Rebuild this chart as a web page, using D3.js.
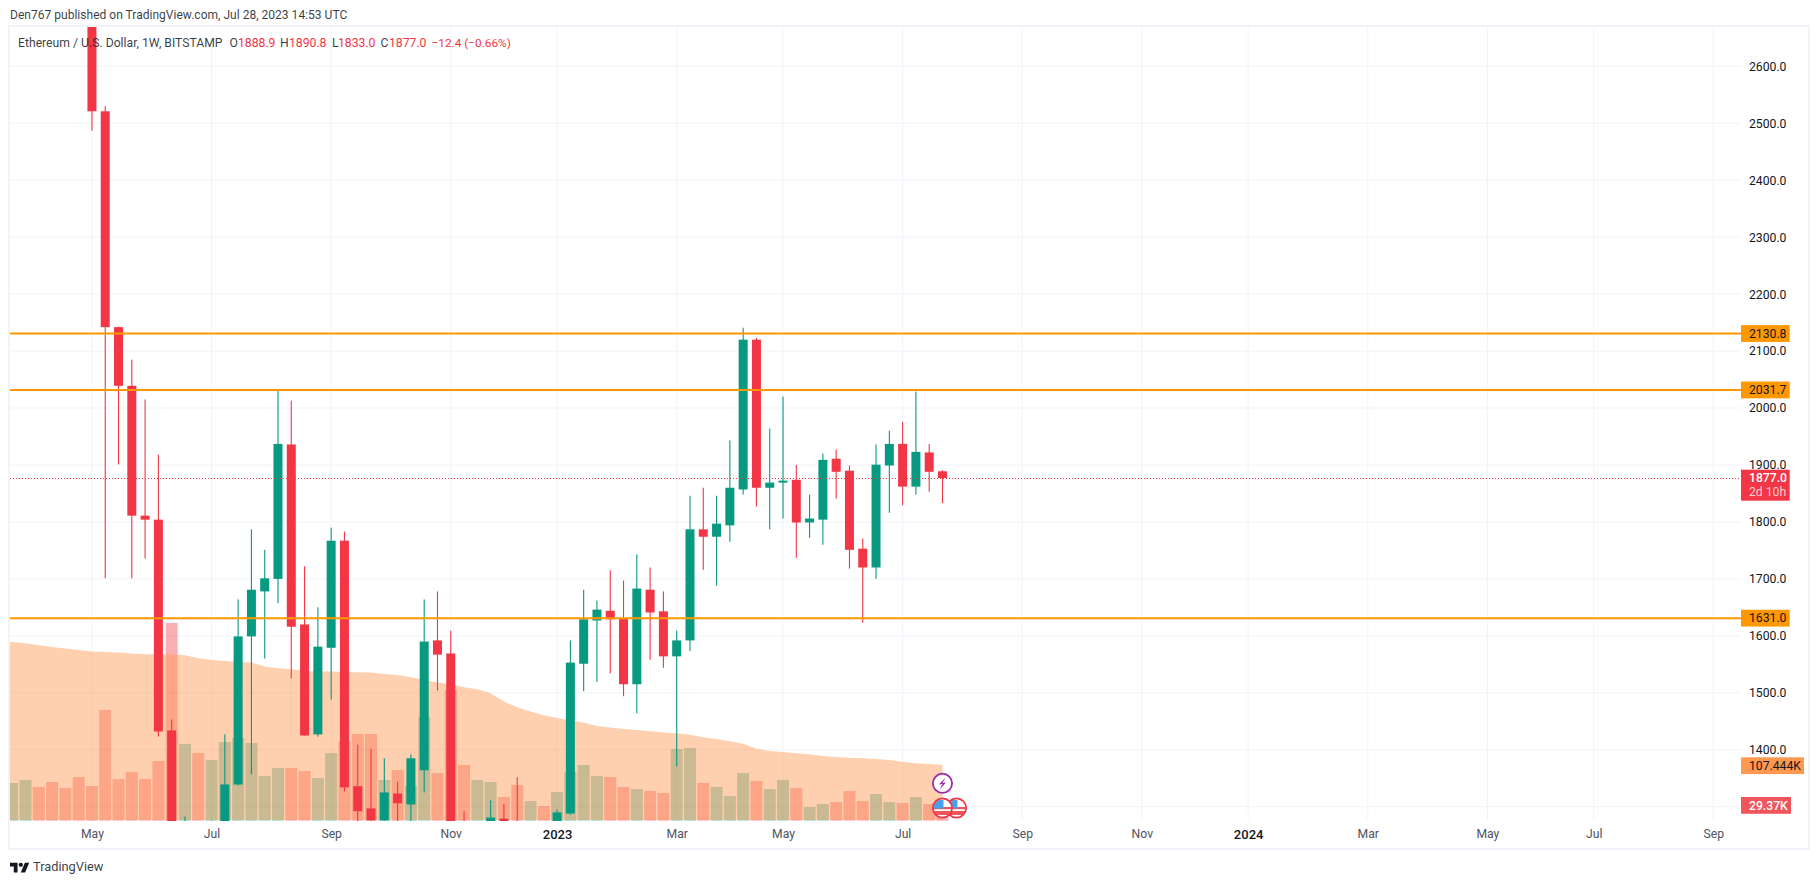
<!DOCTYPE html>
<html>
<head>
<meta charset="utf-8">
<title>Ethereum / U.S. Dollar, 1W</title>
<script src="https://cdn.jsdelivr.net/npm/d3@7"></script>
<style>
    html, body { margin: 0; padding: 0; background: #fff; overflow: hidden; }
    text { font-family: Roboto, "Liberation Sans", sans-serif; }
</style>
</head>
<body>
<div id="chart"></div>
<script>
// Weekly candles, one entry per week
const opens = [3110, 2960, 3050, 3130, 3090, 3000, 2830, 2521, 2142, 2039, 1811, 1804,
    1434, 1130, 1240, 1070, 1170, 1339, 1599, 1678, 1700, 1936, 1620, 1427, 1579, 1767,
    1336, 1297, 1276, 1323, 1304, 1364, 1592, 1569, 1250, 1210, 1265, 1279, 1220, 1190,
    1200, 1195, 1288, 1551, 1627, 1644, 1630, 1515, 1681, 1643, 1564, 1592, 1787, 1774,
    1794, 1857, 2120, 1860, 1869, 1874, 1799, 1804, 1911, 1890, 1753, 1720, 1899, 1937,
    1862, 1922, 1888.9];
const highs = [3190, 3140, 3180, 3170, 3160, 3030, 2970, 2530, 2143, 2085, 2015, 1918,
    1453, 1283, 1270, 1276, 1427, 1664, 1787, 1751, 2032, 2013, 1722, 1650, 1790, 1783,
    1409, 1402, 1385, 1344, 1392, 1664, 1678, 1609, 1292, 1270, 1311, 1305, 1352, 1220,
    1220, 1295, 1592, 1681, 1662, 1715, 1697, 1743, 1720, 1678, 1609, 1846, 1860, 1846,
    1943, 2141, 2123, 1964, 2020, 1900, 1848, 1920, 1927, 1899, 1771, 1936, 1960, 1976,
    2029, 1937, 1890.8];
const lows = [2850, 2900, 2980, 3000, 2880, 2700, 2487, 1701, 1901, 1701, 1736, 1423,
    1000, 1010, 1000, 1000, 1100, 1337, 1357, 1560, 1657, 1525, 1425, 1423, 1488, 1327,
    1190, 1220, 1220, 1190, 1220, 1325, 1504, 1073, 1170, 1150, 1240, 1160, 1150, 1180,
    1160, 1190, 1286, 1503, 1519, 1534, 1494, 1464, 1558, 1544, 1371, 1573, 1716, 1688,
    1765, 1848, 1827, 1787, 1806, 1737, 1772, 1760, 1841, 1718, 1623, 1700, 1816, 1829,
    1848, 1853, 1833];
const closes = [2960, 3050, 3130, 3090, 3000, 2830, 2521, 2142, 2039, 1811, 1804, 1432,
    1130, 1240, 1070, 1170, 1339, 1599, 1681, 1701, 1937, 1616, 1425, 1581, 1767, 1334,
    1292, 1276, 1325, 1306, 1385, 1590, 1567, 1250, 1210, 1265, 1281, 1220, 1190, 1200,
    1195, 1290, 1553, 1629, 1646, 1629, 1515, 1683, 1641, 1564, 1592, 1787, 1774, 1797,
    1860, 2120, 1860, 1869, 1872.5, 1799, 1806, 1909, 1888, 1751, 1720, 1900.6, 1937,
    1862, 1923, 1888, 1877];

// Volume in thousands and its moving average
const volumes = [72.3, 78.1, 64.6, 74.2, 62.7, 83.8, 66.6, 212.5, 80, 93.4, 80, 114.6,
    379.5, 147.2, 129.9, 116.5, 151, 158.7, 149.1, 85.8, 101.1, 101.1, 95.4, 81.9, 129.9,
    153, 166.4, 166.4, 78.1, 97.3, 66.6, 199, 91.5, 250.9, 106.9, 78.1, 74.2, 45.4, 68.5,
    37.8, 28.2, 55, 93.4, 106.9, 85.8, 83.8, 64.6, 60.8, 57, 53.1, 137.6, 139.5, 72.3,
    64.6, 47.4, 91.5, 76.2, 60.8, 78.1, 62.7, 26.2, 32, 35.8, 57, 37.8, 51.2, 35.8, 33.9,
    45.4, 32, 29.37];
// First entry belongs to the week just left of the pane, so the area reaches the edge
const volumeMa = [345, 343, 340.5, 336.6, 333.4, 330.2, 327.7, 324.5, 323.8, 322.6, 320.6,
    319.4, 319.4, 318.7, 317.4, 311.7, 308.5, 306.6, 304.6, 303.4, 295.7, 292.5, 290.6,
    287.4, 286.1, 286.1, 285.4, 284.8, 284.2, 281.6, 279.7, 275.2, 270.1, 265, 261.8, 256,
    252.2, 244.5, 228.5, 217.6, 209.3, 202.2, 197.1, 192.6, 188.2, 181.8, 178.6, 176,
    174.1, 171.5, 169, 167.7, 165.1, 160, 156.8, 152.3, 147.8, 138.2, 133.8, 131.8, 129.3,
    127.4, 124.2, 122.2, 121, 119.7, 118.4, 116.5, 113.3, 110.1, 108.8, 107.444];
// The colour of a volume bar does not always follow the candle, so it is kept apart
const volumeUp = [1, 1, 0, 0, 0, 0, 0, 0, 0, 0, 0, 0, 0, 1, 0, 1, 1, 1, 1, 1, 1, 0, 0, 1, 1,
    0, 0, 0, 1, 0, 1, 1, 0, 0, 0, 1, 1, 0, 0, 1, 0, 1, 1, 1, 1, 0, 0, 1, 0, 0, 1, 1, 0, 1,
    1, 1, 0, 1, 1, 0, 1, 1, 0, 0, 0, 1, 1, 0, 1, 0, 0];

const priceTicks = [2600, 2500, 2400, 2300, 2200, 2100, 2000, 1900, 1800, 1700, 1600, 1500, 1400];
const gridPrices = [2600, 2500, 2400, 2300, 2200, 2100, 2000, 1900, 1800, 1700, 1600, 1500, 1400, 1300];
const timeLabels = ["May", "Jul", "Sep", "Nov", "2023", "Mar", "May", "Jul", "Sep", "Nov", "2024", "Mar", "May", "Jul", "Sep"];
const timeWeeks = [6, 15, 24, 33, 41, 50, 58, 67, 76, 85, 93, 102, 111, 119, 128];
const levels = [2130.8, 2031.7, 1631.0];
const lastPrice = 1877.0;
const lastVolume = 29.37;
const lastVolumeMa = 107.444;

// Some useful variables, all in the same place
var width = 1819;
var height = 884;
var pane = { left: 10, right: 1741, top: 27, bottom: 820.7 };
var frameRight = 1809;
var frameBottom = 849;
var upColor = "#089981";
var downColor = "#F23645";
var levelColor = "#FF9800";
var gridColor = "#F0F3FA";
var textColor = "#131722";
var axisFont = 12.2;

var svg = d3.select("#chart").append("svg")
    .attr("width", width)
    .attr("height", height)
    .style("display", "block");

const xScale = d3.scaleLinear().domain([0, 128]).range([12.2, 1713.3]);
const yScale = d3.scaleLinear().domain([2600, 1300]).range([66.3, 806.7]);
const volScale = d3.scaleLinear().domain([0, lastVolumeMa]).range([820.7, 764.7]);

svg.append("clipPath").attr("id", "paneClip").append("rect")
    .attr("x", pane.left)
    .attr("y", pane.top)
    .attr("width", pane.right - pane.left)
    .attr("height", pane.bottom - pane.top + 0.4);

// Grid
svg.append("g").selectAll("line")
    .data(gridPrices)
    .enter().append("line")
    .attr("x1", pane.left).attr("x2", pane.right)
    .attr("y1", d => yScale(d)).attr("y2", d => yScale(d))
    .attr("stroke", gridColor).attr("stroke-width", 1);
svg.append("g").selectAll("line")
    .data(timeWeeks)
    .enter().append("line")
    .attr("x1", d => xScale(d)).attr("x2", d => xScale(d))
    .attr("y1", pane.top).attr("y2", pane.bottom)
    .attr("stroke", gridColor).attr("stroke-width", 1);

var plot = svg.append("g").attr("clip-path", "url(#paneClip)");

// Volume bars sit under the moving average area
plot.append("g").selectAll("rect")
    .data(volumes)
    .enter().append("rect")
    .attr("x", (d, i) => xScale(i) - 6)
    .attr("width", 12)
    .attr("y", d => volScale(d))
    .attr("height", d => volScale(0) - volScale(d))
    .attr("fill", (d, i) => volumeUp[i] ? upColor : downColor)
    .attr("fill-opacity", 0.4);

const maArea = d3.area()
    .x((d, i) => xScale(i - 1))
    .y0(volScale(0) - 0.7)
    .y1(d => volScale(d));
plot.append("path")
    .datum(volumeMa)
    .attr("d", maArea)
    .attr("fill", "#FF9850")
    .attr("fill-opacity", 0.46);

// Candles
const candleColor = (d, i) => closes[i] >= opens[i] ? upColor : downColor;
plot.append("g").selectAll("rect")
    .data(opens)
    .enter().append("rect")
    .attr("x", (d, i) => xScale(i) - 0.55)
    .attr("width", 1.1)
    .attr("y", (d, i) => yScale(highs[i]))
    .attr("height", (d, i) => yScale(lows[i]) - yScale(highs[i]))
    .attr("fill", candleColor);
plot.append("g").selectAll("rect")
    .data(opens)
    .enter().append("rect")
    .attr("x", (d, i) => xScale(i) - 4.5)
    .attr("width", 9)
    .attr("y", (d, i) => yScale(Math.max(opens[i], closes[i])))
    .attr("height", (d, i) => Math.abs(yScale(opens[i]) - yScale(closes[i])))
    .attr("fill", candleColor);

// Horizontal levels and the last price line
svg.append("g").selectAll("line")
    .data(levels)
    .enter().append("line")
    .attr("x1", pane.left).attr("x2", pane.right)
    .attr("y1", d => yScale(d)).attr("y2", d => yScale(d))
    .attr("stroke", levelColor).attr("stroke-width", 2);
svg.append("line")
    .attr("x1", pane.left).attr("x2", pane.right)
    .attr("y1", Math.round(yScale(lastPrice)) + 0.5).attr("y2", Math.round(yScale(lastPrice)) + 0.5)
    .attr("stroke", downColor).attr("stroke-width", 1)
    .attr("stroke-dasharray", "1 2");

// Frame
svg.append("rect")
    .attr("x", pane.left - 1).attr("y", pane.top - 1)
    .attr("width", frameRight - pane.left + 1)
    .attr("height", frameBottom - pane.top + 1)
    .attr("fill", "none")
    .attr("stroke", gridColor).attr("stroke-width", 2);

// Axes
const yAxis = g => g
    .attr("transform", `translate(${pane.right}, 0)`)
    .call(d3.axisRight(yScale)
        .tickValues(priceTicks)
        .tickSize(0)
        .tickPadding(8)
        .tickFormat(d3.format(".1f")));
svg.append("g").call(yAxis)
    .call(g => g.select(".domain").remove())
    .selectAll("text")
    .attr("fill", textColor)
    .style("font-size", axisFont + "px")
    .style("font-family", "Roboto");

const xAxis = g => g
    .attr("transform", `translate(0, ${pane.bottom})`)
    .call(d3.axisBottom(xScale)
        .tickValues(timeWeeks)
        .tickSize(0)
        .tickPadding(9)
        .tickFormat((d, i) => timeLabels[i]));
svg.append("g").call(xAxis)
    .call(g => g.select(".domain").remove())
    .selectAll("text")
    .attr("fill", (d, i) => timeLabels[i].length == 4 ? textColor : "#50535E")
    .style("font-size", (d, i) => timeLabels[i].length == 4 ? "13px" : axisFont + "px")
    .style("font-weight", (d, i) => timeLabels[i].length == 4 ? 500 : 400)
    .style("font-family", "Roboto");

// Price scale labels
var addLabel = function (txt, y, w, fill, ink, weight) {
    svg.append("rect")
        .attr("x", pane.right).attr("y", y - 8.4)
        .attr("width", w).attr("height", 16.8)
        .attr("fill", fill);
    svg.append("text")
        .attr("x", pane.right + 8).attr("y", y)
        .attr("dy", "0.35em")
        .attr("fill", ink)
        .attr("font-size", axisFont)
        .attr("font-weight", weight)
        .text(txt);
};
levels.forEach(d => addLabel(d3.format(".1f")(d), yScale(d), 48.7, levelColor, textColor, 400));
addLabel(lastVolumeMa + "K", volScale(lastVolumeMa) + 1, 63, "#FF9850", textColor, 400);
addLabel(lastVolume + "K", volScale(lastVolume), 50, "#F0555C", "#fff", 500);

svg.append("rect")
    .attr("x", pane.right).attr("y", yScale(lastPrice) - 8.4)
    .attr("width", 48.7).attr("height", 31)
    .attr("fill", downColor);
svg.append("text")
    .attr("x", pane.right + 8).attr("y", yScale(lastPrice))
    .attr("dy", "0.35em").attr("fill", "#fff")
    .attr("font-size", axisFont).attr("font-weight", 500)
    .text(d3.format(".1f")(lastPrice));
svg.append("text")
    .attr("x", pane.right + 8).attr("y", yScale(lastPrice) + 14)
    .attr("dy", "0.35em").attr("fill", "#fff").attr("fill-opacity", 0.75)
    .attr("font-size", axisFont)
    .text("2d 10h");

// Header and legend
svg.append("text")
    .attr("x", 10).attr("y", 19)
    .attr("fill", textColor).attr("fill-opacity", 0.85)
    .attr("font-size", 12.05)
    .text("Den767 published on TradingView.com, Jul 28, 2023 14:53 UTC");

const legendParts = ["Ethereum / U.S. Dollar, 1W, BITSTAMP", "O", "1888.9", "H", "1890.8", "L", "1833.0", "C", "1877.0", "\u221212.4 (\u22120.66%)"];
const legendX = [18, 229.6, 238, 280, 289, 332, 338, 380.6, 389, 431.6];
svg.append("g").selectAll("text")
    .data(legendParts)
    .enter().append("text")
    .attr("x", (d, i) => legendX[i])
    .attr("y", 46.5)
    .attr("font-size", (d, i) => i == 9 ? 11.8 : 12.2)
    .attr("fill", (d, i) => (i == 0 || (i % 2 == 1 && i < 9)) ? textColor : downColor)
    .attr("fill-opacity", (d, i) => (i == 0 || (i % 2 == 1 && i < 9)) ? 0.85 : 1)
    .text(d => d);

// Event icons at the last bar
var lastX = xScale(volumes.length - 1);
var purple = "#9C27B0";
svg.append("circle")
    .attr("cx", lastX).attr("cy", 783.3).attr("r", 9.6)
    .attr("fill", "#fff").attr("stroke", purple).attr("stroke-width", 1.8);
svg.append("path")
    .attr("d", `M${lastX + 3},${777.5} L${lastX - 3.5},${784.5} L${lastX},${784} L${lastX - 3},${789.5} L${lastX + 3.5},${782.5} L${lastX},${783} Z`)
    .attr("fill", purple);

var flags = [lastX + 14, lastX];
flags.forEach((cx, k) => {
    var cy = 808;
    svg.append("clipPath").attr("id", "flag" + k).append("circle")
        .attr("cx", cx).attr("cy", cy).attr("r", 9);
    var flag = svg.append("g").attr("clip-path", `url(#flag${k})`);
    flag.append("rect").attr("x", cx - 10).attr("y", cy - 10).attr("width", 20).attr("height", 20).attr("fill", "#fff");
    flag.append("rect").attr("x", cx - 10).attr("y", cy + 3).attr("width", 20).attr("height", 4).attr("fill", "#F0555C");
    flag.append("rect").attr("x", cx - 10).attr("y", cy - 1).attr("width", 20).attr("height", 2.2).attr("fill", "#F0555C");
    flag.append("rect").attr("x", cx - 9).attr("y", cy - 8).attr("width", 10).attr("height", 8.5).attr("fill", "#4A9FEA");
    svg.append("circle")
        .attr("cx", cx).attr("cy", cy).attr("r", 9.6)
        .attr("fill", "none").attr("stroke", downColor).attr("stroke-width", 1.8);
});

// TradingView mark
var logo = svg.append("g").attr("transform", "translate(10, 860.5) scale(0.54)").attr("fill", textColor);
logo.append("path").attr("d", "M14 22H7V11H0V4h14v18zM28 22h-8l7.5-18h8L28 22z");
logo.append("circle").attr("cx", 20).attr("cy", 8).attr("r", 4);
svg.append("text")
    .attr("x", 33).attr("y", 871)
    .attr("font-size", 12.8)
    .attr("fill", textColor).attr("fill-opacity", 0.85)
    .text("TradingView");
</script>
</body>
</html>
